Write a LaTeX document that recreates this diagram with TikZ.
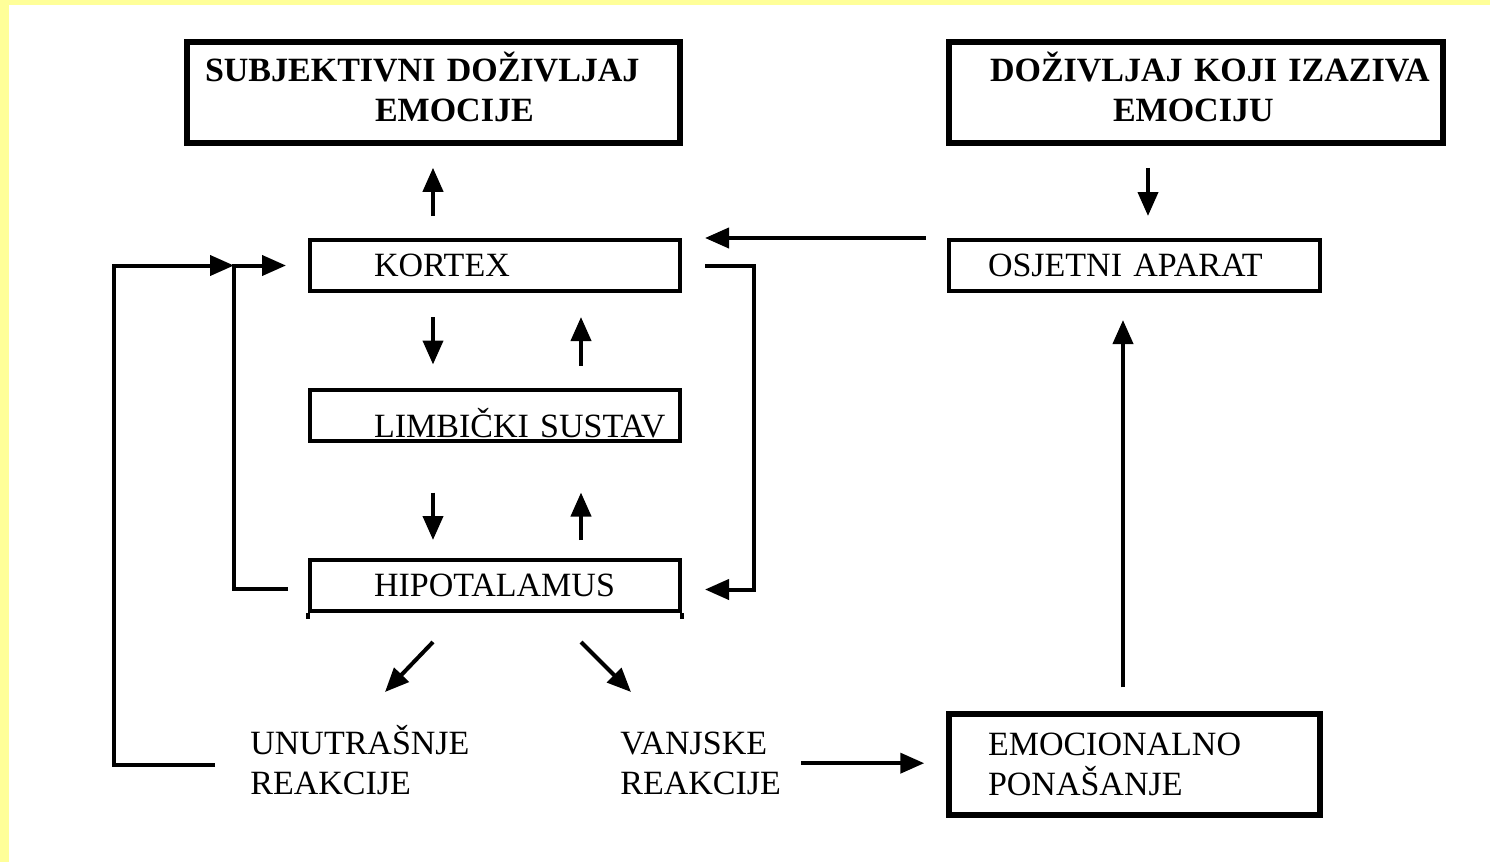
\documentclass[tikz,border=0pt]{standalone}
\usepackage{fontspec}
\setmainfont{Liberation Serif}
\usetikzlibrary{arrows.meta}
\definecolor{zuta}{RGB}{255,255,153}

\begin{document}
\begin{tikzpicture}[x=0.5pt, y=-0.5pt,
    blok/.style={draw, line width=2pt, inner xsep=0pt, inner ysep=0pt, align=left,
        minimum height=25.5pt, text width=185pt, font=\fontsize{17}{20}\selectfont},
    debeli/.style={blok, line width=2.75pt, minimum height=50.5pt},
    tekst/.style={inner sep=0pt, align=left, font=\fontsize{17}{20}\selectfont},
    strelica/.style={line width=2pt, -{Triangle[length=12pt, width=10pt]}}]

    % Background and frame
    \useasboundingbox (0,0) rectangle (1490,862);
    \fill[white] (0,0) rectangle (1490,862);
    \fill[zuta] (0,0) rectangle (9,862);
    \fill[zuta] (0,0) rectangle (1490,5);

    % Top boxes
    \node[debeli, text width=246.5pt, font=\fontsize{17}{20}\selectfont\bfseries] (subj) at (433.5,92.5)
        {\hspace*{9pt}SUBJEKTIVNI DOŽIVLJAJ\\\hspace*{94pt}EMOCIJE\strut};
    \node[debeli, text width=247pt, font=\fontsize{17}{20}\selectfont\bfseries] (dozivljaj) at (1196,92.5)
        {\hspace*{20.5pt}DOŽIVLJAJ KOJI IZAZIVA\\\hspace*{82pt}EMOCIJU\strut};

    % Middle column
    \node[blok] (kortex) at (495,265.5) {\hspace*{32pt}KORTEX};
    \node[blok] (limbicki) at (495,415) {\hspace*{32pt}\raisebox{-11pt}[0pt][0pt]{LIMBIČKI SUSTAV}};
    \node[blok] (hipo) at (495,585.5) {\hspace*{32pt}HIPOTALAMUS};
    \draw[line width=2pt] (hipo.south west) -- ++(0,-3pt) (hipo.south east) -- ++(0,-3pt);

    % Right column
    \node[blok, text width=185.5pt] (osjetni) at (1134.5,265.5) {\hspace*{19.5pt}OSJETNI APARAT};
    \node[debeli, text width=185.5pt] (emoc) at (1134.5,764.5)
        {\hspace*{19.5pt}EMOCIONALNO\\\hspace*{19.5pt}PONAŠANJE};

    % Reactions
    \node[tekst, anchor=south west] (unutrasnje) at (250,795) {UNUTRAŠNJE\\REAKCIJE};
    \node[tekst, anchor=south west] (vanjske) at (620,795) {VANJSKE\\REAKCIJE};

    % Arrows -- vertical
    \draw[strelica, shorten <=11pt, shorten >=11pt] ([xshift=-31pt]kortex.north) -- ([xshift=-31pt]kortex.north |- subj.south);
    \draw[strelica, shorten <=11pt, shorten >=11pt] ([xshift=6.75pt]osjetni.north |- dozivljaj.south) -- ([xshift=6.75pt]osjetni.north);
    \draw[strelica, shorten <=12pt, shorten >=11.5pt] ([xshift=-31pt]kortex.south) -- ([xshift=-31pt]kortex.south |- limbicki.north);
    \draw[strelica, shorten <=11pt, shorten >=12pt] ([xshift=43pt]limbicki.north) -- ([xshift=43pt]limbicki.north |- kortex.south);
    \draw[strelica, shorten <=25pt, shorten >=9pt] ([xshift=-31pt]limbicki.south) -- ([xshift=-31pt]limbicki.south |- hipo.north);
    \draw[strelica, shorten <=9pt, shorten >=25pt] ([xshift=43pt]hipo.north) -- ([xshift=43pt]hipo.north |- limbicki.south);
    \draw[strelica, shorten <=12pt, shorten >=13.5pt] ([xshift=-5.75pt]emoc.north) -- ([xshift=-5.75pt]emoc.north |- osjetni.south);

    % Arrows -- horizontal
    \draw[strelica, shorten <=10.5pt, shorten >=11.5pt] (osjetni.north west) -- (kortex.north east);
    \draw[strelica, shorten <=10pt, shorten >=11pt] (vanjske.east) -- (vanjske.east -| emoc.west);

    % Feedback loops
    \coordinate (spoj) at ([xshift=-37pt]kortex.west);
    \draw[strelica, shorten <=11.5pt, shorten >=11.5pt] (kortex.east) -- ++(36pt,0) |- ([yshift=-2pt]hipo.east);
    \draw[strelica, shorten <=10pt, shorten >=11pt] ([yshift=-1.5pt]hipo.west) -- ++(-37pt,0) |- (kortex.west);
    \draw[strelica, shorten <=17.5pt] ([yshift=-2.5pt]unutrasnje.west) -- ++(-68pt,0) |- (spoj);

    % Arrows -- diagonal
    \draw[strelica] ([xshift=-31pt,yshift=-14.5pt]hipo.south) -- ++(-24pt,-25pt);
    \draw[strelica] ([xshift=43pt,yshift=-14.5pt]hipo.south) -- ++(25pt,-25pt);
\end{tikzpicture}
\end{document}
